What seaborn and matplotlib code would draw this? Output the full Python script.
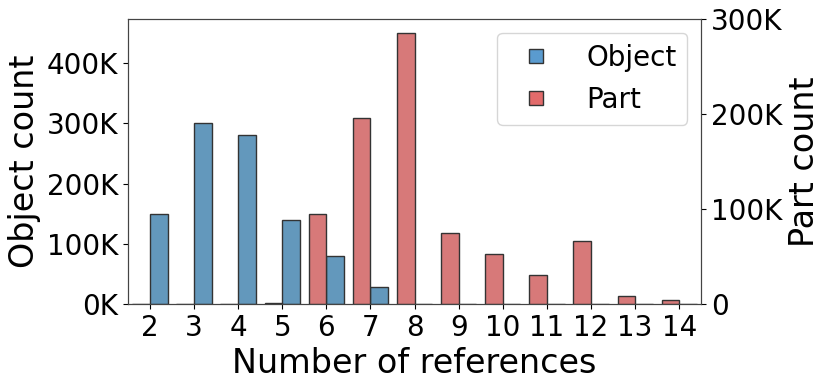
import numpy as np
import pandas as pd
import seaborn as sns
import matplotlib
matplotlib.use("Agg")
import matplotlib.pyplot as plt
from matplotlib.ticker import FuncFormatter
from matplotlib.lines import Line2D

# data
refs = ["2", "3", "4", "5", "6", "7", "8", "9", "10", "11", "12", "13", "14"]
object_counts = [150000, 300000, 280000, 140000, 80000, 28000, 0, 0, 0, 0, 0, 0, 0]
part_counts = [0, 0, 0, 1500, 95000, 196000, 285000, 75000, 53000, 31000, 66000, 9000, 4500]
series_order = ["Part", "Object"]

bar_colors = {"Object": "#6398BC", "Part": "#D77979"}
legend_colors = {"Object": "#5A9BCF", "Part": "#E26B6B"}

df = pd.DataFrame({
    "refs": refs * 2,
    "count": object_counts + part_counts,
    "type": ["Object"] * len(refs) + ["Part"] * len(refs),
})

sns.set_style("ticks")
plt.rcParams["font.family"] = ["DejaVu Sans"]
plt.rcParams["text.color"] = "black"
plt.rcParams["axes.labelcolor"] = "black"
plt.rcParams["xtick.color"] = "black"
plt.rcParams["ytick.color"] = "black"

fig, ax1 = plt.subplots(figsize=(8.3, 3.88), dpi=100)
ax2 = ax1.twinx()

sns.barplot(data=df[df["type"] == "Object"], x="refs", y="count", hue="type",
            hue_order=series_order, order=refs, palette=bar_colors, saturation=1,
            dodge=True, edgecolor="#333333", linewidth=1, legend=False, ax=ax1)
sns.barplot(data=df[df["type"] == "Part"], x="refs", y="count", hue="type",
            hue_order=series_order, order=refs, palette=bar_colors, saturation=1,
            dodge=True, edgecolor="#333333", linewidth=1, legend=False, ax=ax2)

ax1.set_xlim(-0.5, len(refs) - 0.5)
ax1.set_ylim(0, 473000)
ax2.set_ylim(0, 300000)
ax1.set_yticks([0, 100000, 200000, 300000, 400000])
ax2.set_yticks([0, 100000, 200000, 300000])
ax1.yaxis.set_major_formatter(FuncFormatter(lambda v, p: f"{int(v / 1000)}K"))
ax2.yaxis.set_major_formatter(FuncFormatter(lambda v, p: "0" if v == 0 else f"{int(v / 1000)}K"))

ax1.set_xlabel("Number of references", fontsize=24)
ax1.set_ylabel("Object count", fontsize=24)
ax2.set_ylabel("Part count", fontsize=24)
ax2.set_xlabel("")
ax1.tick_params(labelsize=20)
ax2.tick_params(labelsize=20)

for ax in (ax1, ax2):
    for s in ax.spines.values():
        s.set_visible(True)
        s.set_color("#444444")

handles = [Line2D([], [], marker="s", linestyle="", markersize=10,
                  markerfacecolor=legend_colors[k], markeredgecolor="#333333", label=k)
           for k in ["Object", "Part"]]
ax2.legend(handles=handles, loc="upper right", fontsize=20)

plt.subplots_adjust(left=0.154, right=0.845, top=0.951, bottom=0.216)
plt.savefig("out.png", dpi=100)
